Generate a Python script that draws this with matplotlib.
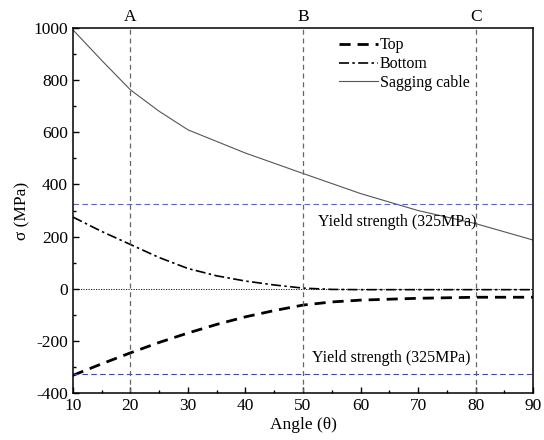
import matplotlib.pyplot as plt
from matplotlib.ticker import MultipleLocator

plt.rcParams["font.family"] = ["Liberation Serif", "DejaVu Serif"]
plt.rcParams["axes.unicode_minus"] = False

# Stress vs. angle, read at 5 degree steps
angle = [10, 15, 20, 25, 30, 35, 40, 45, 50, 55, 60, 70, 80, 90]
top = [-331, -287, -245, -205, -169, -136, -107, -83, -62, -50, -43, -36, -32, -32]
bottom = [275, 220, 170, 120, 78, 50, 30, 15, 3, -2, -3, -3, -3, -3]
sagging_angle = [10, 15, 20, 25, 30, 40, 50, 60, 70, 80, 90]
sagging = [992, 875, 762, 680, 609, 520, 442, 365, 300, 250, 187]

yield_strength = 325
section_angles = [20, 50, 80]
section_names = ["A", "B", "C"]

fig = plt.figure(figsize=(5.44, 4.40), dpi=100)
ax = fig.add_axes([0.134, 0.106, 0.846, 0.831])

ax.plot(angle, top, color="black", lw=2.0, dashes=(4, 2.5), label="Top")
ax.plot(angle, bottom, color="black", lw=1.2, dashes=(6, 2, 1.5, 2), label="Bottom")
ax.plot(sagging_angle, sagging, color="#555555", lw=0.8, label="Sagging cable")

# reference lines: zero stress and yield strength
ax.axhline(0, color="black", lw=0.6, ls=(0, (1.5, 1.5)))
ax.axhline(yield_strength, color="#5a5aff", lw=0.8, ls=(0, (5, 3)))
ax.axhline(-yield_strength, color="#3a3aff", lw=0.8, ls=(0, (5, 3)))
ax.text(52.6, 255, "Yield strength (325MPa)", fontsize=11.5,
        va="center", ha="left")
ax.text(51.6, -265, "Yield strength (325MPa)", fontsize=11.5,
        va="center", ha="left")

# section markers
for a, name in zip(section_angles, section_names):
    ax.axvline(a, color="#666666", lw=0.9, ls=(0, (4, 3)))
    ax.text(a, 1012, name, ha="center", va="bottom", fontsize=12.5)

ax.set_xlim(10, 90)
ax.set_ylim(-400, 1000)
ax.xaxis.set_major_locator(MultipleLocator(10))
ax.xaxis.set_minor_locator(MultipleLocator(5))
ax.yaxis.set_major_locator(MultipleLocator(200))
ax.yaxis.set_minor_locator(MultipleLocator(100))
ax.tick_params(which="both", direction="in", top=False, right=False, labelsize=12.5)
ax.tick_params(which="major", length=4, width=1)
ax.tick_params(which="minor", length=2.5, width=1)
for s in ax.spines.values():
    s.set_linewidth(1.1)

ax.set_xlabel("Angle (θ)", fontsize=12.5, labelpad=2)
ax.set_ylabel("σ (MPa)", fontsize=12.5, labelpad=2)

ax.legend(loc="upper left", bbox_to_anchor=(0.558, 1.0), frameon=False, fontsize=11.5,
          handlelength=2.4, handletextpad=0.15, labelspacing=0.18, borderaxespad=0.2)

fig.savefig("out.png", dpi=100)
